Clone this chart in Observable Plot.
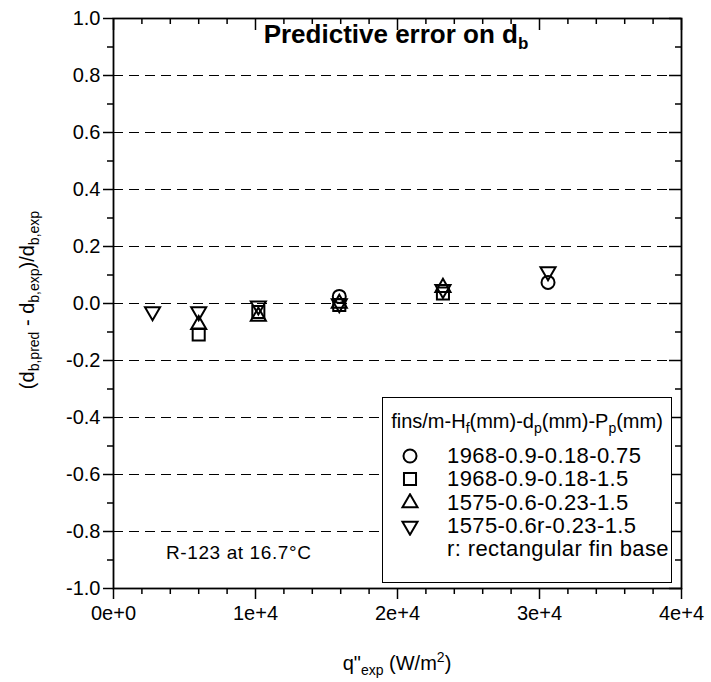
<!DOCTYPE html>
<html><head><meta charset="utf-8">
<script src="https://cdn.jsdelivr.net/npm/d3@7"></script>
<script src="https://cdn.jsdelivr.net/npm/@observablehq/plot@0.6"></script>
<style>
body{margin:0;background:#fff;}
#wrap{position:relative;width:711px;height:682px;font-family:"Liberation Sans",Arial,sans-serif;color:#000;}
#legend{position:absolute;left:382px;top:397px;width:290px;height:186px;border:1.5px solid #000;background:#fff;box-sizing:border-box;}
#legend .ttl{position:absolute;left:0;right:0;top:11px;text-align:center;font-size:20px;line-height:24px;white-space:nowrap;}
#legend .row{position:absolute;left:0;right:0;height:24px;font-size:22px;line-height:24px;white-space:nowrap;letter-spacing:0.4px;}
#legend .row svg{position:absolute;left:16px;top:2px;}
#legend .row span{position:absolute;left:64px;top:0;}
sub{font-size:14px;vertical-align:-5px;line-height:0;}
</style></head><body><div id="wrap"></div>
<script>
// ---- data ----
const seriesNames = ["1968-0.9-0.18-0.75", "1968-0.9-0.18-1.5", "1575-0.6-0.23-1.5", "1575-0.6r-0.23-1.5"];
const circleQ = [15900, 30600];
const circleErr = [0.025, 0.074];
const squareQ = [6000, 10200, 15900, 23200];
const squareErr = [-0.109, -0.03, -0.005, 0.035];
const upQ = [6000, 10200, 15900, 23200];
const upErr = [-0.074, -0.045, 0.0, 0.056];
const downQ = [2750, 6000, 10200, 15900, 23200, 30600];
const downErr = [-0.028, -0.028, -0.008, 0.0, 0.05, 0.112];
const xTicks = [0, 10000, 20000, 30000, 40000];
const xTickLabels = ["0e+0", "1e+4", "2e+4", "3e+4", "4e+4"];
const xMinor = [2000,4000,6000,8000,12000,14000,16000,18000,22000,24000,26000,28000,32000,34000,36000,38000];
const yTicks = [-1.0, -0.8, -0.6, -0.4, -0.2, 0.0, 0.2, 0.4, 0.6, 0.8, 1.0];
const yTickLabels = ["-1.0","-0.8","-0.6","-0.4","-0.2","0.0","0.2","0.4","0.6","0.8","1.0"];
const yGrid = [-0.8, -0.6, -0.4, -0.2, 0.0, 0.2, 0.4, 0.6, 0.8];
const yMinor = [-0.9, -0.7, -0.5, -0.3, -0.1, 0.1, 0.3, 0.5, 0.7, 0.9];

// ---- layout ----
const W = 711, H = 682, mL = 113, mR = 30, mT = 18, mB = 94;
const fw = W - mL - mR, fh = H - mT - mB;

const downTriangle = {
  draw(context, size) {
    const y = Math.sqrt(size / (Math.sqrt(3) * 3));
    context.moveTo(0, y * 2);
    context.lineTo(-Math.sqrt(3) * y, -y);
    context.lineTo(Math.sqrt(3) * y, -y);
    context.closePath();
  }
};
const symbols = [d3.symbolCircle, d3.symbolSquare, d3.symbolTriangle, downTriangle];
const radii = [6.5, 6.8, 5.6, 5.6];

const rows = [];
const add = (qs, es, k) => qs.forEach((q, i) => rows.push({q, err: es[i], s: seriesNames[k], r: radii[k]}));
add(circleQ, circleErr, 0);
add(squareQ, squareErr, 1);
add(upQ, upErr, 2);
add(downQ, downErr, 3);

const xFmt = d => xTickLabels[xTicks.indexOf(d)];
const yFmt = d => yTickLabels[yTicks.indexOf(d)];

const chart = Plot.plot({
  width: W, height: H,
  marginLeft: mL, marginRight: mR, marginTop: mT, marginBottom: mB,
  style: {fontFamily: '"Liberation Sans", Arial, sans-serif', background: "#fff", color: "#000"},
  x: {domain: [0, 40000]},
  y: {domain: [-1, 1]},
  r: {type: "identity"},
  symbol: {domain: seriesNames, range: symbols},
  marks: [
    Plot.ruleY(yGrid, {y: d => d, stroke: "#000", strokeWidth: 1, strokeDasharray: "10,6"}),
    Plot.axisX(xTicks, {tickSize: 11, tickPadding: 6, tickFormat: xFmt, fontSize: 20, label: null, strokeWidth: 1.5}),
    Plot.axisX(xMinor, {tickSize: 6, text: null, label: null, strokeWidth: 1.5}),
    Plot.tickX(xTicks, {x: d => d, insetBottom: fh - 12, strokeWidth: 1.5}),
    Plot.tickX(xMinor, {x: d => d, insetBottom: fh - 6, strokeWidth: 1.5}),
    Plot.axisY(yTicks, {tickSize: 10, tickPadding: 3, tickFormat: yFmt, fontSize: 20, label: null, strokeWidth: 1.5}),
    Plot.axisY(yMinor, {tickSize: 6, text: null, label: null, strokeWidth: 1.5}),
    Plot.tickY(yTicks, {y: d => d, insetLeft: fw - 12, strokeWidth: 1.5}),
    Plot.tickY(yMinor, {y: d => d, insetLeft: fw - 6, strokeWidth: 1.5}),
    Plot.frame({stroke: "#000", strokeWidth: 1.8}),
    Plot.dot(rows, {x: "q", y: "err", symbol: "s", r: "r", stroke: "#000", strokeWidth: 2, fill: "none"})
  ]
});

const wrap = document.getElementById("wrap");
wrap.appendChild(chart);

const svg = d3.select(chart);
const ff = '"Liberation Sans", Arial, sans-serif';
// title
const t = svg.append("text").attr("x", 396).attr("y", 43).attr("text-anchor", "middle")
  .attr("font-family", ff).attr("font-size", 26).attr("font-weight", "bold").attr("fill", "#000");
t.append("tspan").text("Predictive error on d");
t.append("tspan").attr("dy", 6).attr("font-size", 17).text("b");
// y label
const yl = svg.append("text").attr("transform", "translate(34,300) rotate(-90)").attr("text-anchor", "middle")
  .attr("font-family", ff).attr("font-size", 20).attr("fill", "#000");
yl.append("tspan").text("(d");
yl.append("tspan").attr("dy", 5).attr("font-size", 14).text("b,pred");
yl.append("tspan").attr("dy", -5).text(" - d");
yl.append("tspan").attr("dy", 5).attr("font-size", 14).text("b,exp");
yl.append("tspan").attr("dy", -5).text(")/d");
yl.append("tspan").attr("dy", 5).attr("font-size", 14).text("b,exp");
// x label
const xl = svg.append("text").attr("x", 397).attr("y", 670).attr("text-anchor", "middle")
  .attr("font-family", ff).attr("font-size", 20).attr("fill", "#000");
xl.append("tspan").text("q\"");
xl.append("tspan").attr("dy", 5).attr("font-size", 14).text("exp");
xl.append("tspan").attr("dy", -5).text(" (W/m");
xl.append("tspan").attr("dy", -8).attr("font-size", 14).text("2");
xl.append("tspan").attr("dy", 8).text(")");
// annotation
svg.append("text").attr("x", 166).attr("y", 559).attr("text-anchor", "start").attr("font-family", ff).attr("font-size", 19)
  .attr("letter-spacing", 0.6).attr("fill", "#000").text("R-123 at 16.7°C");

// legend
const lg = document.createElement("div");
lg.id = "legend";
lg.innerHTML = '<div class="ttl">fins/m-H<sub>f</sub>(mm)-d<sub>p</sub>(mm)-P<sub>p</sub>(mm)</div>';
const rowCenters = [58, 81, 105, 128];
seriesNames.forEach((name, i) => {
  const row = document.createElement("div");
  row.className = "row";
  row.style.top = (rowCenters[i] - 12) + "px";
  const path = d3.symbol(symbols[i], Math.PI * radii[i] * radii[i])();
  row.innerHTML = `<svg width="22" height="20" viewBox="-11 -10 22 20"><path d="${path}" fill="none" stroke="#000" stroke-width="2"/></svg><span>${name}</span>`;
  lg.appendChild(row);
});
const extra = document.createElement("div");
extra.className = "row";
extra.style.top = (151 - 12) + "px";
extra.innerHTML = "<span>r: rectangular fin base</span>";
lg.appendChild(extra);
wrap.appendChild(lg);
</script>
</body></html>
